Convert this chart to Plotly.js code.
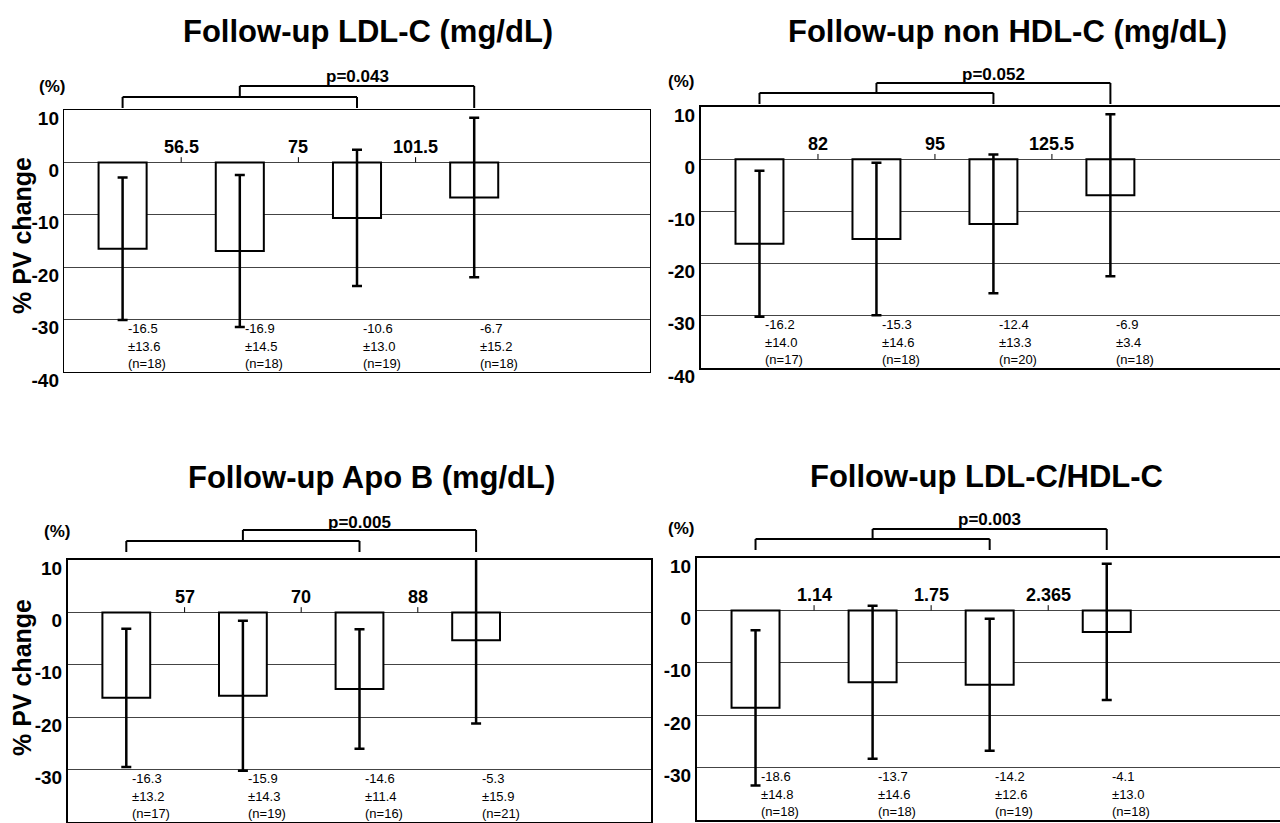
<!DOCTYPE html>
<html><head><meta charset="utf-8">
<script src="https://cdn.plot.ly/plotly-3.0.1.min.js"></script>
<style>html,body{margin:0;padding:0;background:#fff;} #chart{width:1280px;height:823px;}</style>
</head><body><div id="chart"></div>
<script>
// ---- data ----
const groups = [0, 1, 2, 3];

const ldlTitle = 'Follow-up LDL-C (mg/dL)';
const ldlMean = [-16.5, -16.9, -10.6, -6.7];
const ldlSD = ['13.6', '14.5', '13.0', '15.2'];
const ldlErr = [13.6, 14.5, 13.0, 15.2];
const ldlN = [18, 18, 19, 18];
const ldlCuts = ['56.5', '75', '101.5'];
const ldlP = 'p=0.043';

const nonHdlTitle = 'Follow-up non HDL-C (mg/dL)';
const nonHdlMean = [-16.2, -15.3, -12.4, -6.9];
const nonHdlSD = ['14.0', '14.6', '13.3', '3.4'];
const nonHdlErr = [14.0, 14.6, 13.3, 15.5];
const nonHdlN = [17, 18, 20, 18];
const nonHdlCuts = ['82', '95', '125.5'];
const nonHdlP = 'p=0.052';

const apoBTitle = 'Follow-up Apo B (mg/dL)';
const apoBMean = [-16.3, -15.9, -14.6, -5.3];
const apoBSD = ['13.2', '14.3', '11.4', '15.9'];
const apoBErr = [13.2, 14.3, 11.4, 15.9];
const apoBN = [17, 19, 16, 21];
const apoBCuts = ['57', '70', '88'];
const apoBP = 'p=0.005';

const ratioTitle = 'Follow-up LDL-C/HDL-C';
const ratioMean = [-18.6, -13.7, -14.2, -4.1];
const ratioSD = ['14.8', '14.6', '12.6', '13.0'];
const ratioErr = [14.8, 14.6, 12.6, 13.0];
const ratioN = [18, 18, 19, 18];
const ratioCuts = ['1.14', '1.75', '2.365'];
const ratioP = 'p=0.003';

const yTickVals = [10, 0, -10, -20, -30, -40];
const yAxisLabel = '% PV change';
const unitLabel = '(%)';

// ---- layout geometry (pixels) ----
const W = 1280, H = 823;
const panels = [
  {title: ldlTitle, mean: ldlMean, sd: ldlSD, err: ldlErr, n: ldlN, cuts: ldlCuts, p: ldlP,
   x0: 64, x1: 650, top: 110, bot: 372, xmax: 4.5, lw: 1.2,
   titleX: 368, titleY: 32, unitX: 52, unitY: 86, br: {g: 2, L: 13, U: 24, pY: 33}, yTitleY: 236},
  {title: nonHdlTitle, mean: nonHdlMean, sd: nonHdlSD, err: nonHdlErr, n: nonHdlN, cuts: nonHdlCuts, p: nonHdlP,
   x0: 701, x1: 1280, top: 107, bot: 368, xmax: 4.45, lw: 2,
   titleX: 1007, titleY: 32, unitX: 681, unitY: 81, br: {g: 3, L: 14, U: 24, pY: 33}},
  {title: apoBTitle, mean: apoBMean, sd: apoBSD, err: apoBErr, n: apoBN, cuts: apoBCuts, p: apoBP,
   x0: 68, x1: 651, top: 560, bot: 822, xmax: 4.5, lw: 2,
   titleX: 371, titleY: 477, unitX: 57, unitY: 531, br: {g: 8, L: 19, U: 30, pY: 38}, yTitleY: 678},
  {title: ratioTitle, mean: ratioMean, sd: ratioSD, err: ratioErr, n: ratioN, cuts: ratioCuts, p: ratioP,
   x0: 697, x1: 1280, top: 558, bot: 820, xmax: 4.48, lw: 2,
   titleX: 986, titleY: 476, unitX: 681, unitY: 528, br: {g: 8, L: 19, U: 29, pY: 39}}
];

const px = v => v / W;
const py = v => 1 - v / H;
const FONT = 'Liberation Sans, Arial, Helvetica, sans-serif';

const data = [];
const shapes = [];
const annotations = [];
const layout = {
  width: W, height: H,
  margin: {l: 0, r: 0, t: 0, b: 0},
  paper_bgcolor: '#fff', plot_bgcolor: '#fff',
  showlegend: false,
  font: {family: FONT, color: '#000'},
  shapes: shapes, annotations: annotations
};

panels.forEach((P, k) => {
  const s = k === 0 ? '' : String(k + 1);
  const xa = 'x' + s, ya = 'y' + s;
  const xr = [-0.5, P.xmax];
  const dataToPx = v => P.x0 + (v - xr[0]) / (xr[1] - xr[0]) * (P.x1 - P.x0);

  layout['xaxis' + s] = {
    domain: [px(P.x0), px(P.x1)], range: xr, anchor: ya,
    showticklabels: false, showgrid: false, zeroline: false, ticks: '',
    showline: true, mirror: true, linecolor: '#000', linewidth: P.lw, fixedrange: true
  };
  layout['yaxis' + s] = {
    domain: [py(P.bot), py(P.top)], range: [-40, 10], anchor: xa,
    tickvals: yTickVals, ticktext: yTickVals.map(String), ticks: '',
    tickfont: {family: FONT, size: 19, weight: 'bold', color: '#000'},
    ticklabelshift: 8,
    showgrid: true, gridcolor: '#444', gridwidth: 1,
    zeroline: true, zerolinecolor: '#444', zerolinewidth: 1,
    showline: true, mirror: true, linecolor: '#000', linewidth: P.lw, fixedrange: true
  };

  data.push({
    type: 'bar', x: groups, y: P.mean, xaxis: xa, yaxis: ya, width: 0.41,
    marker: {color: '#fff', line: {color: '#000', width: 2}},
    error_y: {type: 'data', array: P.err, visible: true, color: '#000', thickness: 2.5, width: 5},
    hoverinfo: 'skip', showlegend: false
  });

  // cut-off values between groups
  P.cuts.forEach((c, i) => {
    shapes.push({type: 'line', xref: xa, yref: ya, x0: i + 0.5, x1: i + 0.5, y0: 0, y1: 1,
      line: {color: '#000', width: 1}});
    annotations.push({xref: xa, yref: ya, x: i + 0.5, y: 0, yanchor: 'bottom', yshift: 3,
      text: c, showarrow: false, font: {family: FONT, size: 18, weight: 'bold', color: '#000'}});
  });

  // mean ± SD (n) labels
  groups.forEach((g, i) => {
    const lines = [String(P.mean[i]), '\u00b1' + P.sd[i], '(n=' + P.n[i] + ')'];
    const ys = [-31.7, -35.1, -38.4];
    lines.forEach((t, j) => {
      annotations.push({xref: xa, yref: ya, x: g + 0.03, y: ys[j], xanchor: 'left', yanchor: 'middle',
        text: t, showarrow: false, font: {family: FONT, size: 13, color: '#000'}});
    });
  });

  // significance brackets
  const c = groups.map(dataToPx);
  const T = P.top, b = P.br;
  const mid = (c[0] + c[2]) / 2;
  const seg = (xa0, ya0, xa1, ya1) => shapes.push({type: 'line', xref: 'paper', yref: 'paper',
    x0: px(xa0), y0: py(ya0), x1: px(xa1), y1: py(ya1), line: {color: '#000', width: 2}});
  seg(c[0], T - b.g, c[0], T - b.L);
  seg(c[0], T - b.L, c[2], T - b.L);
  seg(c[2], T - b.L, c[2], T - b.g);
  seg(mid, T - b.L, mid, T - b.U);
  seg(mid, T - b.U, c[3], T - b.U);
  seg(c[3], T - b.U, c[3], T - b.g);
  annotations.push({xref: 'paper', yref: 'paper', x: px(c[2]), y: py(T - b.pY), xanchor: 'center', yanchor: 'middle',
    text: P.p, showarrow: false, font: {family: FONT, size: 17, weight: 'bold', color: '#000'}});

  // panel title
  annotations.push({xref: 'paper', yref: 'paper', x: px(P.titleX), y: py(P.titleY), xanchor: 'center', yanchor: 'middle',
    text: P.title, showarrow: false, font: {family: FONT, size: 31, weight: 'bold', color: '#000'}});
  // unit label
  annotations.push({xref: 'paper', yref: 'paper', x: px(P.unitX), y: py(P.unitY), xanchor: 'center', yanchor: 'middle',
    text: unitLabel, showarrow: false, font: {family: FONT, size: 17, weight: 'bold', color: '#000'}});
  // y-axis title on left panels
  if (P.yTitleY) {
    annotations.push({xref: 'paper', yref: 'paper', x: px(22), y: py(P.yTitleY), xanchor: 'center', yanchor: 'middle',
      textangle: -90, text: yAxisLabel, showarrow: false,
      font: {family: FONT, size: 25, weight: 'bold', color: '#000'}});
  }
});

Plotly.newPlot('chart', data, layout, {staticPlot: true, displayModeBar: false});
</script>
</body></html>
